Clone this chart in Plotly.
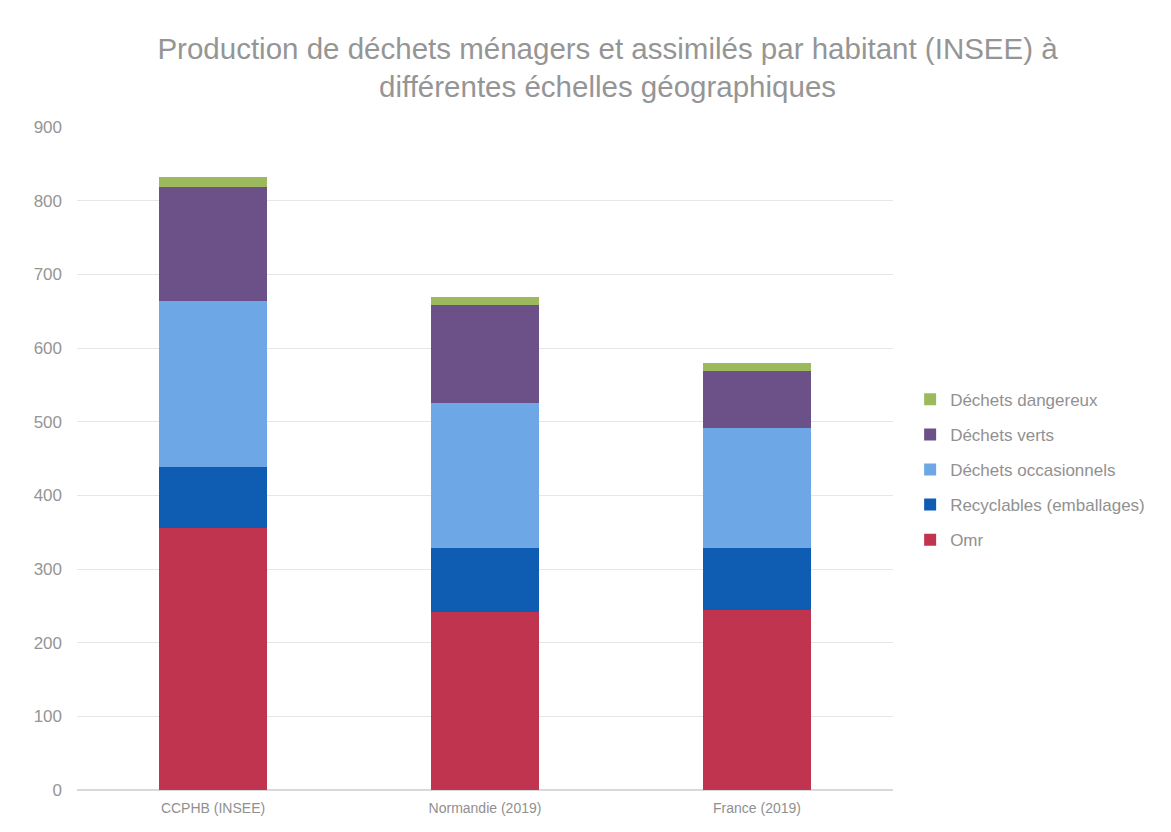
import plotly.graph_objects as go

categories = ["CCPHB (INSEE)", "Normandie (2019)", "France (2019)"]
omr = [356, 241, 245]
recyclables = [83, 87, 83]
occasionnels = [225, 198, 164]
verts = [154, 132, 77]
dangereux = [14, 11, 10]

series = [
    ("Omr", omr, "#C0344F"),
    ("Recyclables (emballages)", recyclables, "#0F5DB3"),
    ("Déchets occasionnels", occasionnels, "#6DA7E6"),
    ("Déchets verts", verts, "#6C5088"),
    ("Déchets dangereux", dangereux, "#9DB95E"),
]

fig = go.Figure()
n = len(series)
for i, (name, vals, col) in enumerate(series):
    fig.add_trace(go.Bar(x=categories, y=vals, name=name, legendgroup=name, legendrank=n - i,
                         marker=dict(color=col, line=dict(width=0)), width=0.4))

fig.update_layout(
    barmode="stack",
    width=1171, height=832,
    paper_bgcolor="white", plot_bgcolor="white",
    font=dict(family="Liberation Sans, Arial, sans-serif", color="#909090"),
    title=dict(text="Production de déchets ménagers et assimilés par habitant (INSEE) à<br>différentes échelles géographiques",
               x=0.512, xanchor="center", y=0.939, yanchor="middle",
               font=dict(size=29.5, color="#959595")),
    margin=dict(l=69, r=286, t=119, b=50),
    legend=dict(x=1.021, y=0.483, xanchor="left", yanchor="middle", traceorder="grouped",
                font=dict(size=17, color="#919191"), itemwidth=30, tracegroupgap=10),
    showlegend=True,
)
fig.update_yaxes(range=[0, 900], dtick=100, gridcolor="#e6e6e6", zeroline=True, zerolinecolor="#d9d9d9",
                 tickfont=dict(size=17, color="#959595"), ticks="", showline=False, ticklabelstandoff=14)
fig.update_xaxes(tickfont=dict(size=14, color="#909090"), showline=True, linecolor="#d9d9d9", ticks="",
                 ticklabelstandoff=5)

fig.write_html("out.html")
